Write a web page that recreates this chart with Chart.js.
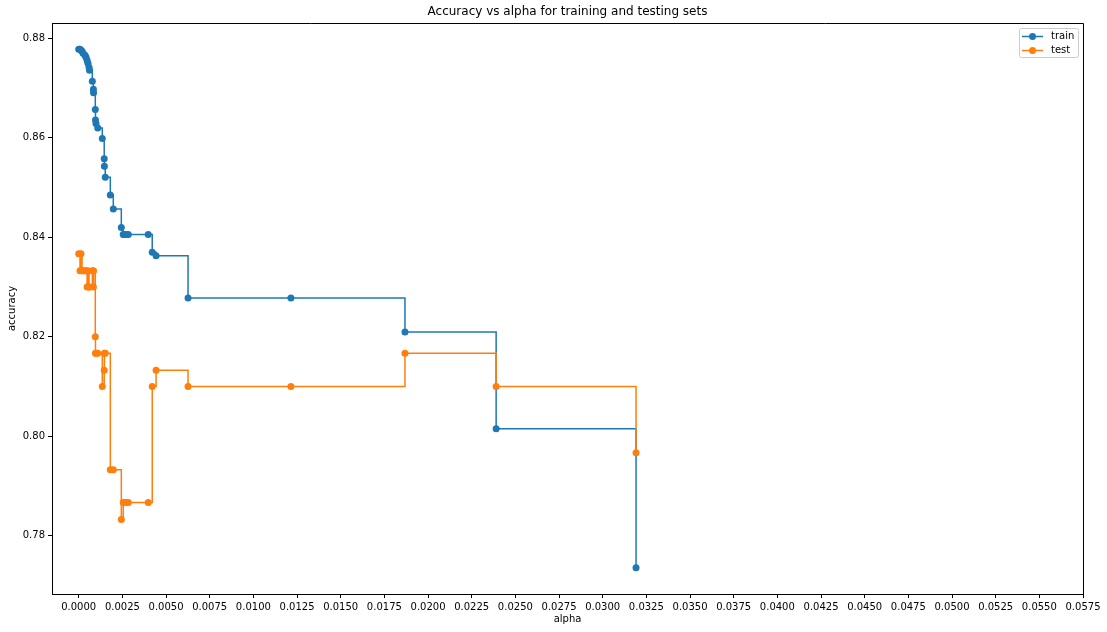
<!DOCTYPE html>
<html><head><meta charset="utf-8">
<script src="https://cdn.jsdelivr.net/npm/chart.js@4.4.0/dist/chart.umd.min.js"></script>
<style>html,body{margin:0;padding:0;background:#fff;} canvas{display:block;}</style>
</head><body>
<canvas id="c" width="1107" height="632"></canvas>
<script>
const alphas = [0, 0.000074, 0.00013, 0.00019, 0.00025, 0.00036, 0.00042, 0.00048, 0.00053, 0.00059,
  0.00062, 0.00078, 0.00084, 0.00085, 0.00095, 0.00096, 0.00099, 0.00109, 0.00135, 0.00146,
  0.00147, 0.00152, 0.00181, 0.00198, 0.00244, 0.00255, 0.0026, 0.0027, 0.00284, 0.00398,
  0.00421, 0.00443, 0.00626, 0.01215, 0.01868, 0.0239, 0.03191];
const trainAccuracy = [0.8778, 0.8778, 0.8776, 0.8774, 0.8770, 0.8766, 0.8762, 0.8756, 0.8750, 0.8742,
  0.8736, 0.8714, 0.8698, 0.8691, 0.8657, 0.8636, 0.8629, 0.8620, 0.8599, 0.8558,
  0.8543, 0.8521, 0.8485, 0.8457, 0.8420, 0.8406, 0.8406, 0.8406, 0.8406, 0.8406,
  0.8370, 0.8363, 0.8278, 0.8278, 0.8210, 0.8015, 0.7736];
const testAccuracy = [0.8367, 0.8333, 0.8367, 0.8333, 0.8333, 0.8333, 0.8333, 0.8300, 0.8333, 0.8300,
  0.8300, 0.8333, 0.8300, 0.8333, 0.8200, 0.8167, 0.8167, 0.8167, 0.8100, 0.8133,
  0.8167, 0.8167, 0.7933, 0.7933, 0.7833, 0.7867, 0.7867, 0.7867, 0.7867, 0.7867,
  0.8100, 0.8133, 0.8100, 0.8100, 0.8167, 0.8100, 0.7967];
const xTicks = [0.0000, 0.0025, 0.0050, 0.0075, 0.0100, 0.0125, 0.0150, 0.0175, 0.0200, 0.0225,
  0.0250, 0.0275, 0.0300, 0.0325, 0.0350, 0.0375, 0.0400, 0.0425, 0.0450, 0.0475,
  0.0500, 0.0525, 0.0550, 0.0575];
const yTicks = [0.78, 0.80, 0.82, 0.84, 0.86, 0.88];
const seriesNames = ['train', 'test'];
const seriesColors = ['#1f77b4', '#ff7f0e'];
const chartTitle = 'Accuracy vs alpha for training and testing sets';
const xLabel = 'alpha';
const yLabel = 'accuracy';

const FONT = 'DejaVu Sans';

const decor = {
  id: 'decor',
  afterDraw(chart) {
    const {ctx, chartArea: a} = chart;
    ctx.save();
    // top & right spines
    ctx.strokeStyle = '#000';
    ctx.lineWidth = 1;
    ctx.beginPath();
    const L = Math.round(a.left) + 0.5, R = Math.round(a.right) + 0.5, T = Math.round(a.top) + 0.5, B = Math.round(a.bottom) + 0.5;
    ctx.moveTo(L, T); ctx.lineTo(R, T); ctx.lineTo(R, B);
    ctx.stroke();
    // title
    ctx.fillStyle = '#000';
    ctx.font = '12px "' + FONT + '"';
    ctx.textAlign = 'center';
    ctx.textBaseline = 'middle';
    ctx.fillText(chartTitle, (a.left + a.right) / 2, 12);
    // legend
    const bx = a.right - 64, by = a.top + 5, bw = 59, bh = 29;
    ctx.globalAlpha = 0.8;
    ctx.fillStyle = '#fff';
    ctx.beginPath();
    ctx.roundRect(bx + 0.5, by + 0.5, bw, bh, 2);
    ctx.fill();
    ctx.globalAlpha = 1;
    ctx.strokeStyle = '#cccccc';
    ctx.stroke();
    ctx.font = '10px "' + FONT + '"';
    ctx.textAlign = 'left';
    seriesNames.forEach((name, i) => {
      const yy = by + 8.5 + i * 14;
      ctx.strokeStyle = seriesColors[i];
      ctx.lineWidth = 1.5;
      ctx.beginPath();
      ctx.moveTo(bx + 3, yy); ctx.lineTo(bx + 24, yy);
      ctx.stroke();
      ctx.fillStyle = seriesColors[i];
      ctx.beginPath();
      ctx.arc(bx + 13.5, yy, 3.5, 0, Math.PI * 2);
      ctx.fill();
      ctx.fillStyle = '#000';
      ctx.fillText(name, bx + 32, yy);
    });
    ctx.restore();
  }
};

function mkData(values) {
  return alphas.map((a, i) => ({x: a, y: values[i]}));
}
function mkDataset(i, values, order) {
  return {
    label: seriesNames[i],
    data: mkData(values),
    borderColor: seriesColors[i],
    backgroundColor: seriesColors[i],
    pointBackgroundColor: seriesColors[i],
    pointBorderColor: seriesColors[i],
    pointBorderWidth: 0,
    pointRadius: 3.5,
    pointHoverRadius: 3.5,
    borderWidth: 1.5,
    stepped: 'before',
    fill: false,
    tension: 0,
    order: order
  };
}

const tickFont = {family: FONT, size: 10};
new Chart(document.getElementById('c'), {
  type: 'line',
  data: {datasets: [mkDataset(0, trainAccuracy, 1), mkDataset(1, testAccuracy, 0)]},
  options: {
    responsive: false,
    animation: false,
    devicePixelRatio: 1,
    layout: {padding: {left: 0, right: 24, top: 23, bottom: 0}},
    plugins: {legend: {display: false}, tooltip: {enabled: false}, title: {display: false}},
    scales: {
      x: {
        type: 'linear',
        min: -0.001529,
        max: 0.0575,
        afterBuildTicks: s => { s.ticks = xTicks.map(v => ({value: v})); },
        afterFit: s => { s.height = 38; },
        ticks: {callback: v => Number(v).toFixed(4), color: '#000', font: tickFont, padding: 3, maxRotation: 0, minRotation: 0, autoSkip: false},
        grid: {display: true, drawOnChartArea: false, drawTicks: true, tickLength: 4, tickColor: '#000', tickWidth: 1},
        border: {display: true, color: '#000', width: 1},
        title: {display: true, text: xLabel, color: '#000', font: tickFont, padding: {top: 0, bottom: 7}}
      },
      y: {
        type: 'linear',
        min: 0.7683,
        max: 0.8831,
        afterBuildTicks: s => { s.ticks = yTicks.map(v => ({value: v})); },
        afterFit: s => { s.width = 52; },
        ticks: {callback: v => Number(v).toFixed(2), color: '#000', font: tickFont, padding: 3, autoSkip: false},
        grid: {display: true, drawOnChartArea: false, drawTicks: true, tickLength: 4, tickColor: '#000', tickWidth: 1},
        border: {display: true, color: '#000', width: 1},
        title: {display: true, text: yLabel, color: '#000', font: tickFont, padding: {top: 6, bottom: 0}}
      }
    }
  },
  plugins: [decor]
});
</script>
</body></html>
